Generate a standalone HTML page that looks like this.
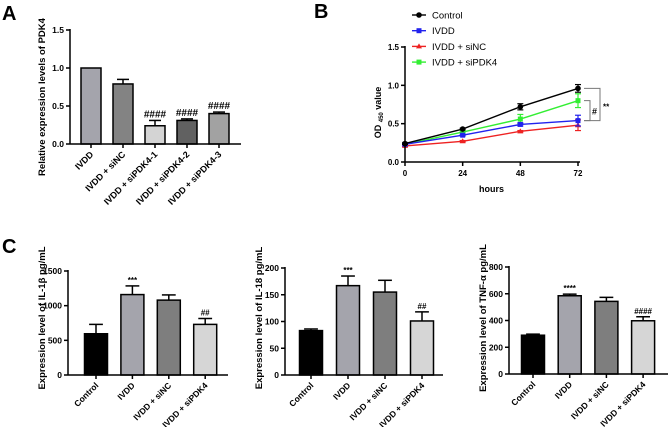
<!DOCTYPE html>
<html><head><meta charset="utf-8"><style>
body{margin:0;background:#fff;}
svg{display:block;font-family:"Liberation Sans",Arial,sans-serif;}
</style></head><body>
<svg id="s" width="669" height="427" viewBox="0 0 669 427">
<text x="2" y="20" font-size="20" font-weight="bold">A</text>
<text x="314" y="18" font-size="20" font-weight="bold">B</text>
<text x="2" y="253" font-size="20" font-weight="bold">C</text>
</svg>
<script>
const aCats=["IVDD","IVDD + siNC","IVDD + siPDK4-1","IVDD + siPDK4-2","IVDD + siPDK4-3"];
const aVals=[1.0,0.79,0.24,0.31,0.40];
const aErr=[0,0.06,0.07,0.02,0.02];
const aMarks=["","","####","####","####"];
const aTicks=[0,0.5,1.0,1.5];
const aTickLabels=["0.0","0.5","1.0","1.5"];

const bHours=[0,24,48,72];
const bNames=["Control","IVDD","IVDD + siNC","IVDD + siPDK4"];
const bControl=[0.24,0.43,0.72,0.96];
const bIVDD=[0.23,0.35,0.49,0.54];
const bSiNC=[0.21,0.27,0.40,0.48];
const bSiPDK4=[0.23,0.39,0.56,0.80];
const bErrControl=[0.01,0.01,0.04,0.05];
const bErrIVDD=[0.01,0.01,0.02,0.07];
const bErrSiNC=[0.01,0.01,0.01,0.07];
const bErrSiPDK4=[0.01,0.01,0.06,0.09];
const bTicks=[0,0.5,1.0,1.5];
const bTickLabels=["0.0","0.5","1.0","1.5"];

const cCats=["Control","IVDD","IVDD + siNC","IVDD + siPDK4"];
const c1Vals=[595,1160,1080,730];
const c1Err=[135,125,75,85];
const c1Marks=["","***","","##"];
const c1Ticks=[0,500,1000,1500];
const c2Vals=[83,167,155,101];
const c2Err=[3,18,22,17];
const c2Marks=["","***","","##"];
const c2Ticks=[0,50,100,150,200];
const c3Vals=[290,585,543,398];
const c3Err=[8,12,30,30];
const c3Marks=["","****","","####"];
const c3Ticks=[0,200,400,600,800];

const svg=document.getElementById('s');
const NS="http://www.w3.org/2000/svg";
function mk(tag,attrs,parent){const e=document.createElementNS(NS,tag);for(const k in attrs)e.setAttribute(k,attrs[k]);(parent||svg).appendChild(e);return e;}

function barChart(cfg){
  const g=mk('g',{});
  
  
  const ys=v=>cfg.y0-(v-cfg.min)/(cfg.max-cfg.min)*(cfg.y0-cfg.y1);
  const xc=i=>cfg.cx0+cfg.step*i;
  cfg.vals.forEach((v,i)=>{
    const x=xc(i), top=ys(v), e=ys(v+cfg.err[i]);
    if(cfg.err[i]>0){
      const l=mk('line',{x1:x,y1:top,x2:x,y2:e,stroke:'#000','stroke-width':1.5},g);
      
      
      mk('line',{x1:x-cfg.bw*0.3,y1:e,x2:x+cfg.bw*0.3,y2:e,stroke:'#000','stroke-width':1.5},g);
    }
    const r=mk('rect',{x:x-cfg.bw/2,y:top,width:cfg.bw,height:cfg.y0-top,fill:cfg.colors[i],stroke:'#000','stroke-width':1.5},g);
    
    
    if(cfg.marks[i]){const t=mk('text',{x:x,y:e-3,'font-size':cfg.markSize||11,'text-anchor':'middle','font-weight':'bold'},g);t.textContent=cfg.marks[i];
      
      }
    mk('line',{x1:x,y1:cfg.y0,x2:x,y2:cfg.y0+4,stroke:'#000','stroke-width':1.5},g);
    const t=mk('text',{x:x+3,y:cfg.y0+11,'font-size':cfg.labelSize||8.5,'font-weight':'bold','text-anchor':'end',transform:`rotate(-45 ${x+3} ${cfg.y0+11})`},g);
    t.textContent=cfg.cats[i];
    
    
  });
  mk('line',{x1:cfg.x0,y1:cfg.y1-1,x2:cfg.x0,y2:cfg.y0,stroke:'#000','stroke-width':1.5},g);
  mk('line',{x1:cfg.x0,y1:cfg.y0,x2:cfg.xEnd,y2:cfg.y0,stroke:'#000','stroke-width':1.5},g);
  cfg.ticks.forEach((tv,i)=>{const y=ys(tv);
    mk('line',{x1:cfg.x0-4,y1:y,x2:cfg.x0,y2:y,stroke:'#000','stroke-width':1.5},g);
    const t=mk('text',{x:cfg.x0-6,y:y+3,'font-size':8.5,'font-weight':'bold','text-anchor':'end'},g);
    t.textContent=cfg.tickLabels?cfg.tickLabels[i]:tv;
    
    });
  const yt=mk('text',{x:0,y:0,'font-size':9.5,'font-weight':'bold','text-anchor':'middle',transform:`translate(${cfg.titleX} ${cfg.titleY}) rotate(-90)`},g);
  yt.textContent=cfg.title;
  
  
}

barChart({name:'chart-a',cats:aCats,vals:aVals,err:aErr,marks:aMarks,ticks:aTicks,tickLabels:aTickLabels,min:0,max:1.5,x0:70,xEnd:241,y0:144,y1:30,bw:20,cx0:91,step:32,labelSize:9,
  colors:['#a4a4ac','#838383','#d4d4d4','#616161','#a2a2a2'],title:'Relative expression levels of PDK4',titleX:45,titleY:97,markSize:10});
const cColors=['#000','#a4a4ac','#7e7e7e','#d6d6d6'];
barChart({name:'chart-il1b',cats:cCats,vals:c1Vals,err:c1Err,marks:c1Marks,ticks:c1Ticks,min:0,max:1500,x0:68,xEnd:228,y0:375,y1:271,bw:23,cx0:96,step:36.4,colors:cColors,title:'Expression level of IL-1β pg/mL',titleX:45,titleY:318,markSize:8});
barChart({name:'chart-il18',cats:cCats,vals:c2Vals,err:c2Err,marks:c2Marks,ticks:c2Ticks,min:0,max:200,x0:285,xEnd:443,y0:375,y1:268,bw:23,cx0:311,step:37,colors:cColors,title:'Expression level of IL-18 pg/mL',titleX:262,titleY:318,markSize:8});
barChart({name:'chart-tnfa',cats:cCats,vals:c3Vals,err:c3Err,marks:c3Marks,ticks:c3Ticks,min:0,max:800,x0:509,xEnd:668,y0:374,y1:267,bw:23,cx0:533,step:36.7,colors:cColors,title:'Expression level of TNF-α pg/mL',titleX:486,titleY:318,markSize:8});

// Panel B line chart
(function(){
  const g=mk('g',{});
  
  
  const x0=405,x1=578,y0=162,y1=47;
  const xs=h=>x0+h/72*(x1-x0), ys=v=>y0-v/1.5*(y0-y1);
  const series=[bControl,bIVDD,bSiNC,bSiPDK4], errs=[bErrControl,bErrIVDD,bErrSiNC,bErrSiPDK4];
  const cols=['#000','#2222ee','#ee2222','#33ee33'];
  [3,2,1,0].forEach(s=>{
    const pts=bHours.map((h,i)=>xs(h)+','+ys(series[s][i])).join(' ');
    const pl=mk('polyline',{points:pts,fill:'none',stroke:cols[s],'stroke-width':1.4},g);
    
    
    bHours.forEach((h,i)=>{const x=xs(h),y=ys(series[s][i]),e=errs[s][i];
      mk('line',{x1:x,y1:ys(series[s][i]-e),x2:x,y2:ys(series[s][i]+e),stroke:cols[s],'stroke-width':1.2},g);
      mk('line',{x1:x-3,y1:ys(series[s][i]+e),x2:x+3,y2:ys(series[s][i]+e),stroke:cols[s],'stroke-width':1.2},g);
      mk('line',{x1:x-3,y1:ys(series[s][i]-e),x2:x+3,y2:ys(series[s][i]-e),stroke:cols[s],'stroke-width':1.2},g);
      let m;
      if(s==0)m=mk('circle',{cx:x,cy:y,r:2.8,fill:cols[s]},g);
      else if(s==2)m=mk('polygon',{points:`${x},${y-3} ${x-3},${y+2} ${x+3},${y+2}`,fill:cols[s]},g);
      else m=mk('rect',{x:x-2.5,y:y-2.5,width:5,height:5,fill:cols[s]},g);
      
      
    });
  });
  mk('line',{x1:x0,y1:y1-1,x2:x0,y2:y0,stroke:'#000','stroke-width':1.5},g);
  mk('line',{x1:x0,y1:y0,x2:x1+2,y2:y0,stroke:'#000','stroke-width':1.5},g);
  bTicks.forEach((tv,i)=>{const y=ys(tv);mk('line',{x1:x0-4,y1:y,x2:x0,y2:y,stroke:'#000','stroke-width':1.5},g);
    const t=mk('text',{x:x0-6,y:y+3,'font-size':8,'font-weight':'bold','text-anchor':'end'},g);t.textContent=bTickLabels[i];
    
    });
  bHours.forEach(h=>{const x=xs(h);mk('line',{x1:x,y1:y0,x2:x,y2:y0+4,stroke:'#000','stroke-width':1.5},g);
    const t=mk('text',{x:x,y:y0+14,'font-size':8,'font-weight':'bold','text-anchor':'middle'},g);t.textContent=h;
    
    });
  const xt=mk('text',{x:(x0+x1)/2,y:192,'font-size':9,'font-weight':'bold','text-anchor':'middle'},g);xt.textContent='hours';
  
  
  const yt=mk('text',{x:0,y:0,'font-size':9,'font-weight':'bold','text-anchor':'middle',transform:`translate(381 ${(y0+y1)/2+8}) rotate(-90)`},g);
  yt.innerHTML='OD <tspan font-size="6" dy="2">450</tspan><tspan dy="-2"> value</tspan>';
  
  
  const bx=xs(72);
  mk('polyline',{points:`${bx+6},${ys(0.96)} ${bx+22},${ys(0.96)} ${bx+22},${ys(0.54)} ${bx+6},${ys(0.54)}`,fill:'none',stroke:'#777','stroke-width':1},g);
  mk('polyline',{points:`${bx+6},${ys(0.80)} ${bx+12},${ys(0.80)} ${bx+12},${ys(0.54)} ${bx+6},${ys(0.54)}`,fill:'none',stroke:'#777','stroke-width':1},g);
  let t=mk('text',{x:bx+14,y:ys(0.67)+4,'font-size':9,'font-weight':'bold'},g);t.textContent='#';
  
  
  t=mk('text',{x:bx+25,y:ys(0.75)+5,'font-size':8,'font-weight':'bold'},g);t.textContent='**';
  
  
  bNames.forEach((nm,i)=>{const y=15+i*15.7,lx=412;
    const lg=mk('g',{},g);
    
    
    mk('line',{x1:lx,y1:y,x2:lx+14,y2:y,stroke:cols[i],'stroke-width':1.4},lg);
    if(i==0)mk('circle',{cx:lx+7,cy:y,r:2.8,fill:cols[i]},lg);
    else if(i==2)mk('polygon',{points:`${lx+7},${y-3} ${lx+4},${y+2} ${lx+10},${y+2}`,fill:cols[i]},lg);
    else mk('rect',{x:lx+4.5,y:y-2.5,width:5,height:5,fill:cols[i]},lg);
    const tt=mk('text',{x:lx+20,y:y+3.5,'font-size':9.5},lg);tt.textContent=nm;
  });
})();
</script>
</body></html>
